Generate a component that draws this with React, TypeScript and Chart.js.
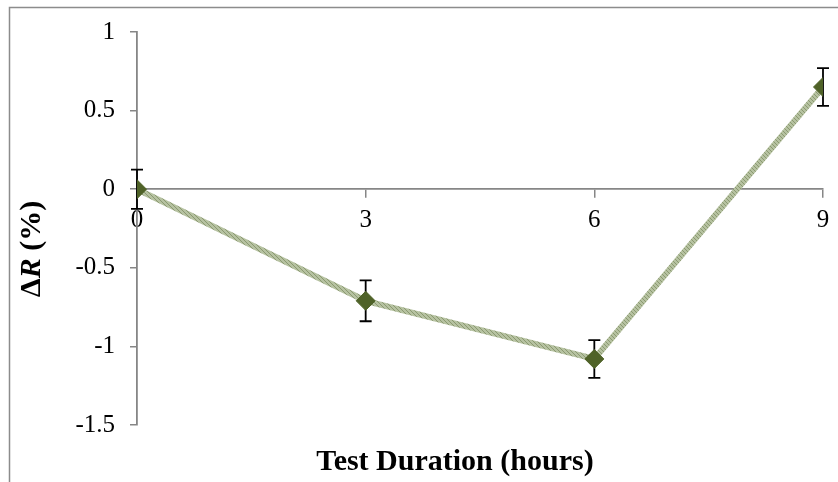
import React, { useEffect, useRef } from "react";
import { Chart, registerables } from "chart.js";

Chart.register(...registerables);

const hours = [0, 3, 6, 9];
const deltaR = [0, -0.71, -1.08, 0.65];
const errors = [0.125, 0.13, 0.12, 0.12];
const xTicks = [0, 3, 6, 9];
const yTicks = [1, 0.5, 0, -0.5, -1, -1.5];
const xTitle = "Test Duration (hours)";

const AXIS = "#868686";
const FONT = "'Liberation Serif', 'Times New Roman', serif";
const TITLE_SIZE = 30;
const TICK_SIZE = 25;

function makePattern(): CanvasPattern | string {
  const c = document.createElement("canvas");
  c.width = 4;
  c.height = 4;
  const g = c.getContext("2d");
  if (!g) return "#a7b38f";
  g.fillStyle = "#b6c2a1";
  g.fillRect(0, 0, 4, 4);
  g.fillStyle = "#8b9971";
  for (let i = 0; i < 4; i++) g.fillRect(i, i, 1, 1);
  const p = g.createPattern(c, "repeat");
  return p || "#a7b38f";
}

const framePlugin = {
  id: "frame",
  beforeDraw(chart: any) {
    const ctx = chart.ctx;
    ctx.save();
    ctx.strokeStyle = "#8c8c8c";
    ctx.lineWidth = 1.5;
    ctx.beginPath();
    ctx.moveTo(9.5, chart.height);
    ctx.lineTo(9.5, 7.5);
    ctx.lineTo(chart.width, 7.5);
    ctx.stroke();
    ctx.restore();
  },
};

const errorBarPlugin = {
  id: "errorBars",
  beforeDatasetsDraw(chart: any) {
    const ctx = chart.ctx;
    const xs = chart.scales.x;
    const ys = chart.scales.y;
    ctx.save();
    ctx.strokeStyle = "#000";
    ctx.lineWidth = 1.8;
    hours.forEach((h, i) => {
      const x = xs.getPixelForValue(h);
      const yTop = ys.getPixelForValue(deltaR[i] + errors[i]);
      const yBot = ys.getPixelForValue(deltaR[i] - errors[i]);
      ctx.beginPath();
      ctx.moveTo(x, yTop);
      ctx.lineTo(x, yBot);
      ctx.moveTo(x - 6, yTop);
      ctx.lineTo(x + 6, yTop);
      ctx.moveTo(x - 6, yBot);
      ctx.lineTo(x + 6, yBot);
      ctx.stroke();
    });
    ctx.restore();
  },
};

const titlesPlugin = {
  id: "axisTitles",
  afterDraw(chart: any) {
    const ctx = chart.ctx;
    ctx.save();
    ctx.fillStyle = "#000";
    ctx.textBaseline = "middle";
    ctx.textAlign = "center";
    ctx.font = `bold ${TITLE_SIZE}px ${FONT}`;
    ctx.fillText(xTitle, 455, 462);

    // y title: ΔR (%) with italic R
    const parts = [
      { t: "\u0394", f: `bold ${TITLE_SIZE}px ${FONT}` },
      { t: "R", f: `italic bold ${TITLE_SIZE}px ${FONT}` },
      { t: " (%)", f: `bold ${TITLE_SIZE}px ${FONT}` },
    ];
    let total = 0;
    const widths = parts.map((p) => {
      ctx.font = p.f;
      const w = ctx.measureText(p.t).width;
      total += w;
      return w;
    });
    ctx.translate(32, 249);
    ctx.rotate(-Math.PI / 2);
    ctx.textAlign = "left";
    let x = -total / 2;
    parts.forEach((p, i) => {
      ctx.font = p.f;
      ctx.fillText(p.t, x, 0);
      x += widths[i];
    });
    ctx.restore();
  },
};

export default function App() {
  const ref = useRef<HTMLCanvasElement | null>(null);

  useEffect(() => {
    if (!ref.current) return;
    const chart = new Chart(ref.current, {
      type: "line",
      data: {
        datasets: [
          {
            data: hours.map((h, i) => ({ x: h, y: deltaR[i] })),
            borderColor: makePattern() as any,
            borderWidth: 6,
            pointStyle: "rectRot",
            pointRadius: 9.5,
            pointBackgroundColor: "#4f6228",
            pointBorderColor: "#4f6228",
            pointBorderWidth: 1,
            tension: 0,
          },
        ],
      },
      options: {
        animation: false,
        responsive: false,
        maintainAspectRatio: false,
        layout: { padding: { left: 0, right: 15, top: 32, bottom: 57 } },
        plugins: {
          legend: { display: false },
          tooltip: { enabled: false },
          title: { display: false },
        },
        scales: {
          x: {
            type: "linear",
            position: { y: 0 } as any,
            min: 0,
            max: 9,
            afterFit: (s: any) => {
              s.height = 0;
            },
            afterBuildTicks: (s: any) => {
              s.ticks = xTicks.map((v) => ({ value: v }));
            },
            grid: {
              display: true,
              drawOnChartArea: false,
              drawTicks: true,
              tickLength: 8,
              color: AXIS,
              lineWidth: 1.5,
            },
            border: { display: true, color: AXIS, width: 1.8 },
            ticks: {
              padding: 8,
              color: "#000",
              font: { family: FONT, size: TICK_SIZE },
              maxRotation: 0,
              callback: (v: any) => String(v),
            },
          },
          y: {
            type: "linear",
            min: -1.5,
            max: 1,
            afterFit: (s: any) => {
              s.width = 137;
            },
            afterBuildTicks: (s: any) => {
              s.ticks = yTicks.map((v) => ({ value: v }));
            },
            grid: {
              display: true,
              drawOnChartArea: false,
              drawTicks: true,
              tickLength: 7,
              color: AXIS,
              lineWidth: 1.5,
            },
            border: { display: true, color: AXIS, width: 1.8 },
            ticks: {
              padding: 15,
              color: "#000",
              font: { family: FONT, size: TICK_SIZE },
              callback: (v: any) => String(v),
            },
          },
        },
      },
      plugins: [framePlugin, errorBarPlugin, titlesPlugin],
    });
    return () => chart.destroy();
  }, []);

  return (
    <div style={{ position: "fixed", left: 0, top: 0, width: 838, height: 482, background: "#fff" }}>
      <canvas ref={ref} width={838} height={482} style={{ display: "block" }} />
    </div>
  );
}
